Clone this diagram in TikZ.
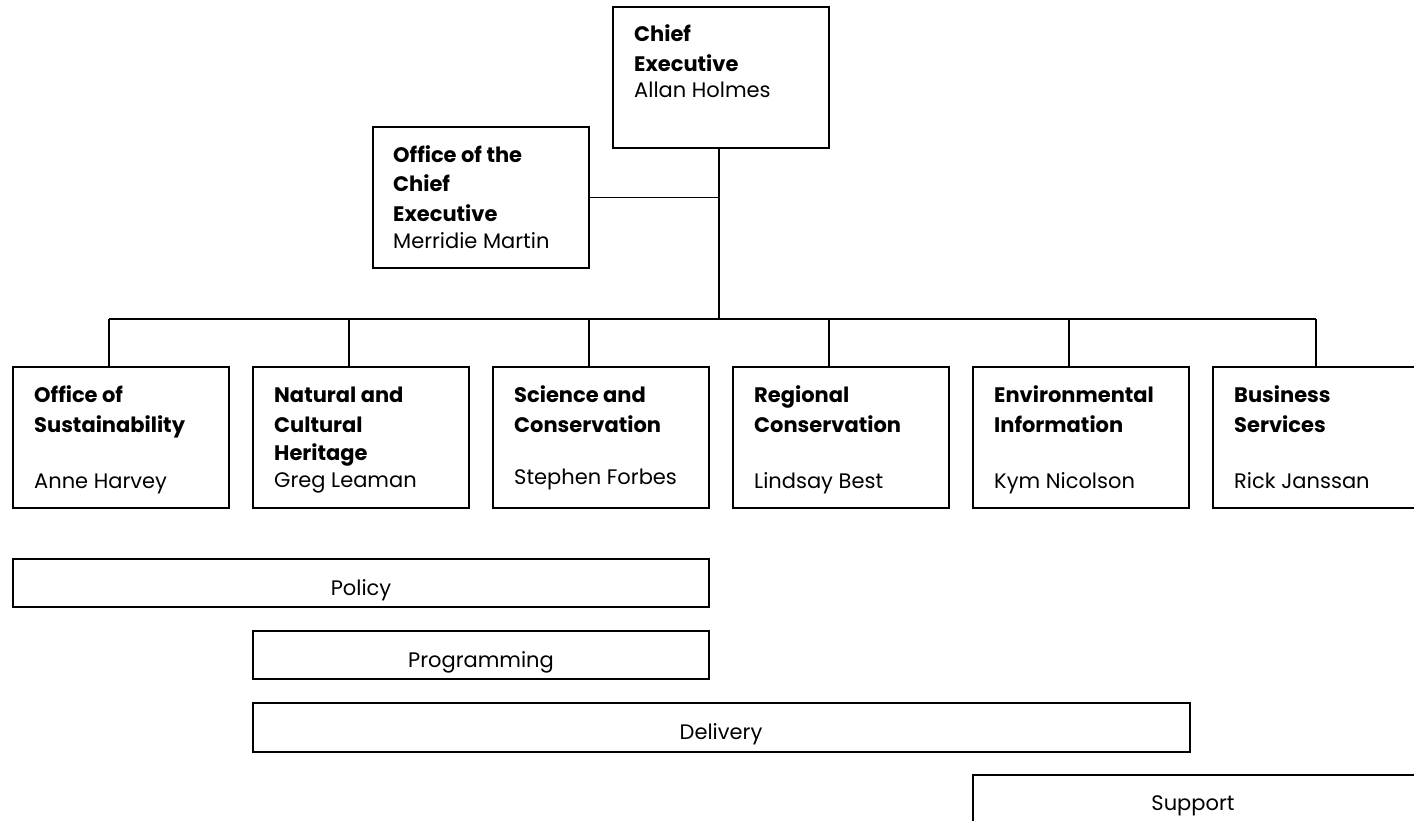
\documentclass[tikz,border=0pt]{standalone}
\usepackage{fontspec}
\setmainfont{Poppins}
\begin{document}
\begin{tikzpicture}[x=1pt,y=-1pt,
  box/.style={draw, line width=1.6pt, minimum width=216pt, minimum height=141pt, anchor=north west, inner sep=0pt, outer sep=0pt},
  bar/.style={draw, line width=1.6pt, anchor=north west, inner sep=0pt, outer sep=0pt},
  hd/.style={anchor=base west, inner sep=0pt, font=\fontsize{21}{25}\selectfont\bfseries},
  nm/.style={anchor=base west, inner sep=0pt, font=\fontsize{21}{25}\selectfont},
  bt/.style={anchor=base, inner sep=0pt, font=\fontsize{21}{25}\selectfont},
  conn/.style={line width=1.6pt}]
\useasboundingbox (0,0) rectangle (1414,821);
% top boxes
\node[box] (ce) at (613,7) {};
\node[box] (oce) at (373,127) {};
% department boxes
\node[box] (d1) at (13,367) {};
\node[box] (d2) at (253,367) {};
\node[box] (d3) at (493,367) {};
\node[box] (d4) at (733,367) {};
\node[box] (d5) at (973,367) {};
\node[box] (d6) at (1213,367) {};
% bars
\node[bar, minimum width=696pt, minimum height=48pt] (pol) at (13,559) {};
\node[bar, minimum width=456pt, minimum height=48pt] (prg) at (253,631) {};
\node[bar, minimum width=937pt, minimum height=49pt] (del) at (253,703) {};
\node[bar, minimum width=445pt, minimum height=60pt] (sup) at (973,775) {};
% connectors
\coordinate (bus) at (719,319);
\coordinate (t1) at (109,319);
\coordinate (t2) at (349,319);
\coordinate (t3) at (589,319);
\coordinate (t4) at (829,319);
\coordinate (t5) at (1069,319);
\coordinate (t6) at (1316,319);
\draw[conn] (ce.south -| bus) -- (bus);
\draw[conn] (oce.east) -- (oce.east -| bus);
\draw[conn] (t1) -- (t6);
\draw[conn] (t1) -- (t1 |- d1.north);
\draw[conn] (t2) -- (t2 |- d2.north);
\draw[conn] (t3) -- (t3 |- d3.north);
\draw[conn] (t4) -- (t4 |- d4.north);
\draw[conn] (t5) -- (t5 |- d5.north);
\draw[conn] (t6) -- (t6 |- d6.north);
% texts: chief executive
\node[hd] (ce1) at (634,42) {Chief};
\node[hd] (ce2) at (634,72) {Executive};
\node[nm] (ce3) at (634,98) {Allan Holmes};
% office of the chief executive
\node[hd] (oc1) at (393,163) {Office of the};
\node[hd] (oc2) at (393,192) {Chief};
\node[hd] (oc3) at (393,222) {Executive};
\node[nm] (oc4) at (393,248) {Merridie Martin};
% departments
\node[hd] (a1) at (34,402) {Office of};
\node[hd] (a2) at (34,432) {Sustainability};
\node[nm] (a3) at (34,488) {Anne Harvey};
\node[hd] (b1) at (274,402) {Natural and};
\node[hd] (b2) at (274,432) {Cultural};
\node[hd] (b3) at (274,460) {Heritage};
\node[nm] (b4) at (274,487) {Greg Leaman};
\node[hd] (c1) at (514,402) {Science and};
\node[hd] (c2) at (514,432) {Conservation};
\node[nm] (c3) at (514,484) {Stephen Forbes};
\node[hd] (e1) at (754,402) {Regional};
\node[hd] (e2) at (754,432) {Conservation};
\node[nm] (e3) at (754,488) {Lindsay Best};
\node[hd] (f1) at (994,402) {Environmental};
\node[hd] (f2) at (994,432) {Information};
\node[nm] (f3) at (994,488) {Kym Nicolson};
\node[hd] (g1) at (1234,402) {Business};
\node[hd] (g2) at (1234,432) {Services};
\node[nm] (g3) at (1234,488) {Rick Janssan};
% bar labels
\node[bt] (polt) at (361,595) {Policy};
\node[bt] (prgt) at (481,667) {Programming};
\node[bt] (delt) at (721,739) {Delivery};
\node[bt] (supt) at (1193,810) {Support};
\end{tikzpicture}
\end{document}
